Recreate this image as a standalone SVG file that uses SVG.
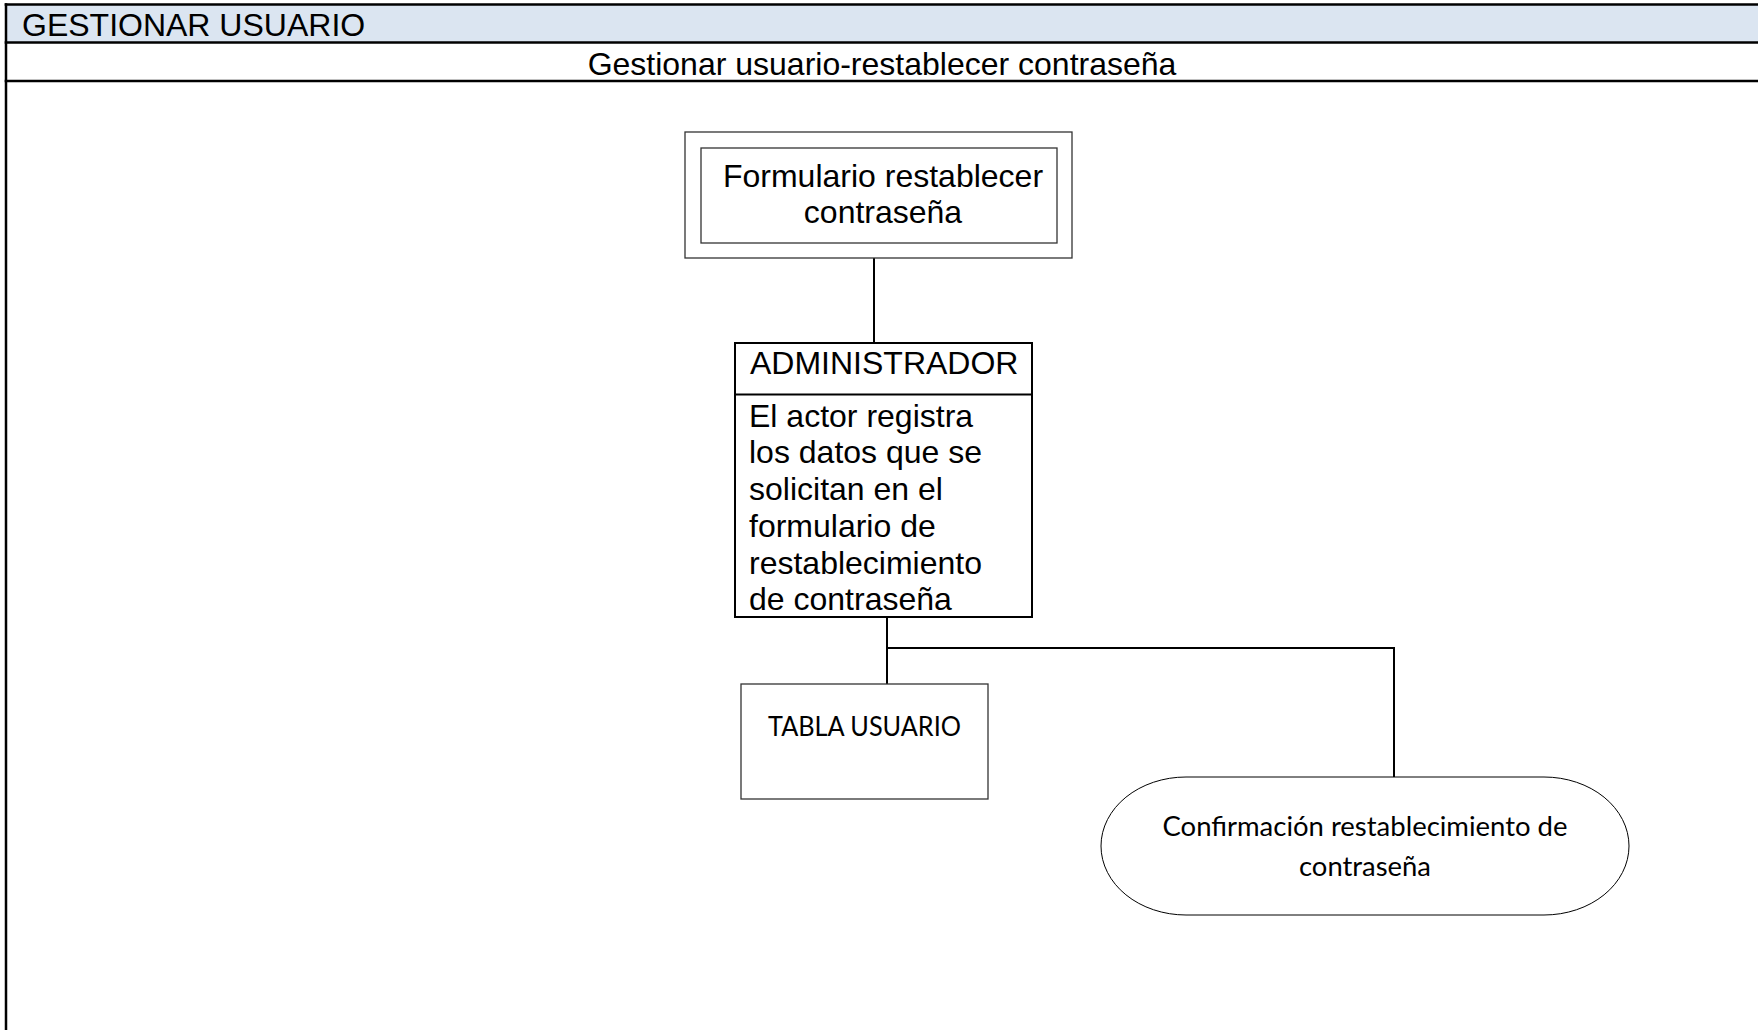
<svg xmlns="http://www.w3.org/2000/svg" width="1758" height="1030" viewBox="0 0 1758 1030">
<style>
.arial{font-family:"Liberation Sans",Arial,sans-serif;font-size:32px;fill:#000}
.cal{font-family:Lato,"Open Sans",sans-serif;font-size:27px;fill:#000}
.tbl{stroke:#000;stroke-width:2.5;fill:none}
.conn{stroke:#000;stroke-width:2;fill:none}
</style>
<g id="table">
<rect x="6" y="4.5" width="1760" height="38" fill="#DBE5F1"/>
<line class="tbl" x1="4.7" y1="4.5" x2="1758" y2="4.5"/>
<line class="tbl" x1="4.7" y1="42.5" x2="1758" y2="42.5"/>
<line class="tbl" x1="4.7" y1="81" x2="1758" y2="81"/>
<line class="tbl" x1="6" y1="3.3" x2="6" y2="1030"/>
<text class="arial" x="22" y="35.5">GESTIONAR USUARIO</text>
<text class="arial" x="882" y="74.5" text-anchor="middle">Gestionar usuario-restablecer contraseña</text>
</g>
<g id="connectors">
<line class="conn" x1="874" y1="258" x2="874" y2="343"/>
<polyline class="conn" points="887,617 887,685"/>
<polyline class="conn" points="887,648 1394,648 1394,777"/>
</g>
<g id="formulario">
<rect x="685" y="132" width="387" height="126" fill="#fff" stroke="#333" stroke-width="1.3"/>
<rect x="701" y="148" width="356" height="95" fill="#fff" stroke="#333" stroke-width="1.3"/>
<text class="arial" x="883" y="186.5" text-anchor="middle">Formulario restablecer</text>
<text class="arial" x="883" y="223" text-anchor="middle">contraseña</text>
</g>
<g id="administrador">
<rect x="735" y="343" width="297" height="274" fill="#fff" stroke="#000" stroke-width="2"/>
<line x1="735" y1="394.5" x2="1032" y2="394.5" stroke="#000" stroke-width="2"/>
<text class="arial" x="750" y="373.5">ADMINISTRADOR</text>
<text class="arial" x="749">
<tspan x="749" y="426.5">El actor registra</tspan>
<tspan x="749" y="463.3">los datos que se</tspan>
<tspan x="749" y="500">solicitan en el</tspan>
<tspan x="749" y="536.8">formulario de</tspan>
<tspan x="749" y="573.6">restablecimiento</tspan>
<tspan x="749" y="610.4">de contraseña</tspan>
</text>
</g>
<g id="tabla-usuario">
<rect x="741" y="684" width="247" height="115" fill="#fff" stroke="#333" stroke-width="1.3"/>
<text class="cal" x="864.5" y="736" text-anchor="middle" textLength="193" lengthAdjust="spacingAndGlyphs">TABLA USUARIO</text>
</g>
<g id="confirmacion">
<rect x="1101" y="777" width="528" height="138" rx="85" ry="69" fill="#fff" stroke="#000" stroke-width="1"/>
<text class="cal" x="1365" y="836" text-anchor="middle" textLength="405" lengthAdjust="spacingAndGlyphs">Confirmación restablecimiento de</text>
<text class="cal" x="1365" y="876" text-anchor="middle" textLength="132" lengthAdjust="spacingAndGlyphs">contraseña</text>
</g>
</svg>
